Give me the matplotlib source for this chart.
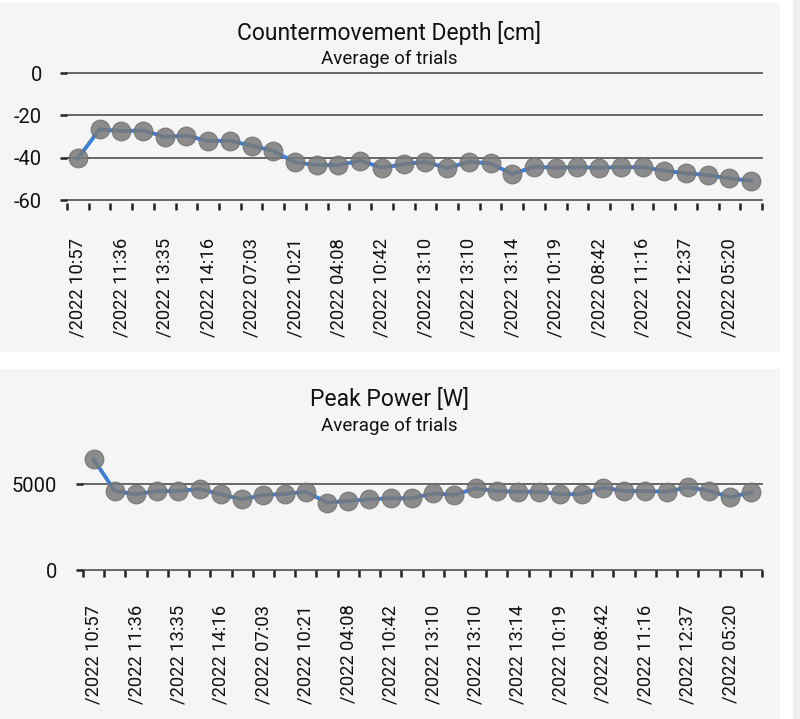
import numpy as np
import matplotlib
matplotlib.use("Agg")
import matplotlib.pyplot as plt
from matplotlib.patches import Rectangle

plt.rcParams['font.family'] = ['Roboto', 'DejaVu Sans']
plt.rcParams['axes.unicode_minus'] = False

# every other session is labelled on the x axis (labels are clipped at the start)
tick_labels = ["/2022 10:57", "/2022 11:36", "/2022 13:35", "/2022 14:16",
               "/2022 07:03", "/2022 10:21", "/2022 04:08", "/2022 10:42",
               "/2022 13:10", "/2022 13:10", "/2022 13:14", "/2022 10:19",
               "/2022 08:42", "/2022 11:16", "/2022 12:37", "/2022 05:20"]

depth_cm = [-40.3, -26.6, -27.4, -27.2, -30.1, -29.6, -32.1, -32.0,
            -34.3, -36.8, -42.2, -43.5, -43.5, -41.4, -44.7, -43.1,
            -41.9, -45.0, -41.9, -42.7, -47.7, -44.3, -44.7, -44.5,
            -44.7, -44.5, -44.5, -46.1, -47.4, -48.2, -49.8, -50.9]

power_w = [6430, 4590, 4400, 4590, 4590, 4710, 4400, 4110,
           4360, 4420, 4550, 3920, 4010, 4110, 4170, 4170,
           4460, 4360, 4750, 4590, 4550, 4550, 4400, 4420,
           4790, 4590, 4590, 4550, 4810, 4610, 4230, 4520]

W, H = 800, 719
fig = plt.figure(figsize=(W / 100, H / 100), dpi=100)
fig.patch.set_facecolor('white')

PANEL = '#f5f5f5'
GRID = '#5c5c5c'
LINE = '#3d7fd6'
DOT = '#7a7a7a'


def px_box(x0, y0, x1, y1):
    # pixel box (top-left origin) -> figure fraction [left, bottom, w, h]
    return [x0 / W, 1 - y1 / H, (x1 - x0) / W, (y1 - y0) / H]


for y0, y1 in [(3, 352), (369, 719)]:
    b = px_box(0, y0, 780, y1)
    fig.patches.append(Rectangle((b[0], b[1]), b[2], b[3], transform=fig.transFigure,
                                 facecolor=PANEL, edgecolor='none', zorder=-10))
b = px_box(793, 0, 800, 719)
fig.patches.append(Rectangle((b[0], b[1]), b[2], b[3], transform=fig.transFigure,
                             facecolor='#efefef', edgecolor='none', zorder=-10))


def draw_panel(ax, values, yticks, ylim, ypad):
    n = len(values)
    x = np.arange(n)
    ax.set_facecolor('none')
    for s in ax.spines.values():
        s.set_visible(False)
    for yt in yticks:
        ax.axhline(yt, color=GRID, lw=1.3, zorder=1, clip_on=False)
    ax.plot(x, values, color=LINE, lw=2.8, zorder=2, clip_on=False)
    ax.plot(x, values, ls='none', marker='o', ms=13.5, mfc=DOT, mec='#6e6e6e',
            mew=0.8, alpha=0.85, zorder=3, clip_on=False)
    ax.set_xlim(-0.5, n - 0.5)
    ax.set_ylim(*ylim)
    ax.set_yticks(yticks)
    ax.set_yticklabels([str(v) for v in yticks])
    ax.tick_params(axis='y', length=5, width=1.8, color='#222222', pad=ypad,
                   labelsize=14.5, labelcolor='#111111')
    ax.set_xticks(x[::2])
    ax.set_xticklabels(tick_labels, rotation=90)
    ax.set_xticks(np.arange(n + 1) - 0.5, minor=True)
    ax.tick_params(axis='x', which='major', length=0, pad=25,
                   labelsize=13.2, labelcolor='#111111')
    ax.tick_params(axis='x', which='minor', length=5, width=1.8, color='#222222')
    ax.grid(False)


# top panel: countermovement depth
ax1 = fig.add_axes(px_box(67, 70.9, 762, 203.2))
draw_panel(ax1, depth_cm, [0, -20, -40, -60], (-61.5, 1), 13)
fig.text(389 / W, 1 - 33 / H, "Countermovement Depth [cm]", ha='center', va='center',
         fontsize=16.5, color='#111111')
fig.text(389 / W, 1 - 59 / H, "Average of trials", ha='center', va='center',
         fontsize=13.5, color='#111111')

# bottom panel: peak power
ax2 = fig.add_axes(px_box(83, 449.6, 762, 570))
draw_panel(ax2, power_w, [0, 5000], (0, 7000), 13.5)
fig.text(389 / W, 1 - 400 / H, "Peak Power [W]", ha='center', va='center',
         fontsize=16.5, color='#111111')
fig.text(389 / W, 1 - 426 / H, "Average of trials", ha='center', va='center',
         fontsize=13.5, color='#111111')

fig.savefig('out.png', dpi=100, facecolor=fig.get_facecolor())
